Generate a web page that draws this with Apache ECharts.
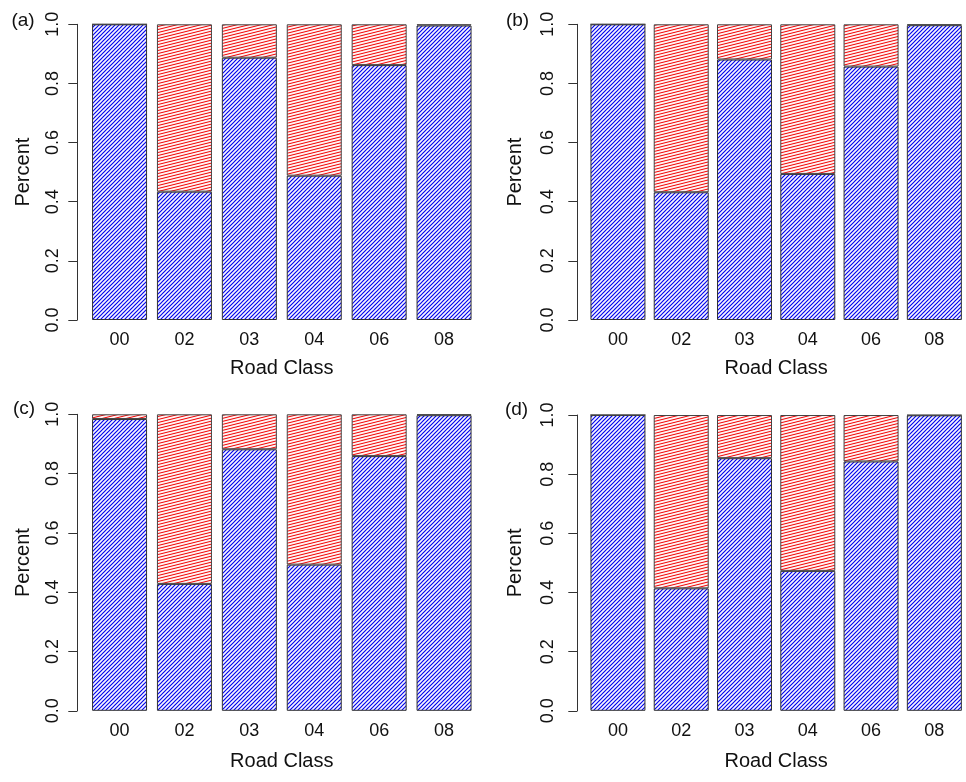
<!DOCTYPE html>
<html>
<head>
<meta charset="utf-8">
<script src="https://cdn.jsdelivr.net/npm/echarts@6/dist/echarts.min.js"></script>
<style>
html,body{margin:0;padding:0;background:#fff;}
#chart{width:966px;height:782px;}
</style>
</head>
<body>
<div id="chart"></div>
<script>
// ---- data ----
var categories = ['00', '02', '03', '04', '06', '08'];
var panelLabels = ['(a)', '(b)', '(c)', '(d)'];
var yTicks = [0, 0.2, 0.4, 0.6, 0.8, 1.0];

var blueA = [1.000, 0.434, 0.887, 0.488, 0.862, 0.996];
var redA  = [0.000, 0.566, 0.113, 0.512, 0.138, 0.004];
var blueB = [1.000, 0.432, 0.881, 0.494, 0.857, 0.997];
var redB  = [0.000, 0.568, 0.119, 0.506, 0.143, 0.003];
var blueC = [0.984, 0.428, 0.882, 0.493, 0.859, 0.997];
var redC  = [0.016, 0.572, 0.118, 0.507, 0.141, 0.003];
var blueD = [1.000, 0.414, 0.854, 0.473, 0.843, 0.999];
var redD  = [0.000, 0.586, 0.146, 0.527, 0.157, 0.001];

var blues = [blueA, blueB, blueC, blueD];
var reds = [redA, redB, redC, redD];

// ---- hatch patterns ----
function hatch(color, bg, w, h, lw) {
  var c = document.createElement('canvas');
  c.width = w; c.height = h;
  var g = c.getContext('2d');
  g.fillStyle = bg;
  g.fillRect(0, 0, w, h);
  g.strokeStyle = color;
  g.lineWidth = lw;
  for (var k = -2; k <= 2; k++) {
    g.beginPath();
    g.moveTo(-w, 2 * h + k * h);
    g.lineTo(2 * w, -h + k * h);
    g.stroke();
  }
  return { image: c, repeat: 'repeat' };
}
var bluePattern = hatch('#0000ee', '#f6f6ff', 4, 4, 1.15);
var redPattern = hatch('#f00000', '#fff4f4', 12, 3, 1.0);

// ---- layout per panel ----
var layout = [
  { left: 87.1, top: 24.3, height: 295.7, off: 9.8, lblMargin: 15, nameGapY: 44, nameGapX: 38, lx: 23, ly: 20.5 },
  { left: 586.3, top: 24.3, height: 295.7, off: 9.0, lblMargin: 20, nameGapY: 52, nameGapX: 38, lx: 517.5, ly: 20.5 },
  { left: 87.1, top: 414.3, height: 296.5, off: 9.8, lblMargin: 15, nameGapY: 44, nameGapX: 41, lx: 24, ly: 409 },
  { left: 586.3, top: 415.0, height: 295.8, off: 9.0, lblMargin: 20, nameGapY: 52, nameGapX: 41, lx: 516.5, ly: 410 }
];
var bandWidth = 64.9;

var FONT = 'Liberation Sans, Arial, Helvetica, sans-serif';
var grids = [], xAxes = [], yAxes = [], series = [], graphics = [];

layout.forEach(function (L, i) {
  grids.push({ left: L.left, top: L.top, width: bandWidth * categories.length, height: L.height });
  xAxes.push({
    type: 'category', gridIndex: i, data: categories,
    axisLine: { show: false }, axisTick: { show: false },
    axisLabel: { interval: 0, margin: 11, fontSize: 18, color: '#111', fontFamily: FONT },
    name: 'Road Class', nameLocation: 'middle', nameGap: L.nameGapX,
    nameTextStyle: { fontSize: 20, color: '#111', fontFamily: FONT }
  });
  yAxes.push({
    type: 'value', gridIndex: i, min: 0, max: 1, interval: 0.2, offset: L.off,
    splitLine: { show: false },
    axisLine: { show: true, lineStyle: { color: '#333', width: 1 } },
    axisTick: { show: true, length: 9, lineStyle: { color: '#333', width: 1 } },
    axisLabel: {
      rotate: 90, margin: L.lblMargin, fontSize: 18, color: '#111', fontFamily: FONT,
      formatter: function (v) { return v.toFixed(1); }
    },
    name: 'Percent', nameLocation: 'middle', nameGap: L.nameGapY,
    nameTextStyle: { fontSize: 20, color: '#111', fontFamily: FONT }
  });
  series.push({
    type: 'bar', xAxisIndex: i, yAxisIndex: i, stack: 's' + i,
    data: blues[i], barWidth: 55,
    itemStyle: { color: bluePattern, borderColor: '#333', borderWidth: 1 },
    silent: true
  });
  series.push({
    type: 'bar', xAxisIndex: i, yAxisIndex: i, stack: 's' + i,
    data: reds[i], barWidth: 55,
    itemStyle: { color: redPattern, borderColor: '#444', borderWidth: 1 },
    silent: true
  });
  graphics.push({
    type: 'text', x: L.lx, y: L.ly,
    style: { text: panelLabels[i], fontSize: 19, fill: '#111', fontFamily: FONT, align: 'center', verticalAlign: 'middle' }
  });
});

var chart = echarts.init(document.getElementById('chart'), null, { renderer: 'canvas' });
chart.setOption({
  animation: false,
  backgroundColor: '#ffffff',
  grid: grids,
  xAxis: xAxes,
  yAxis: yAxes,
  series: series,
  graphic: graphics
});
</script>
</body>
</html>
